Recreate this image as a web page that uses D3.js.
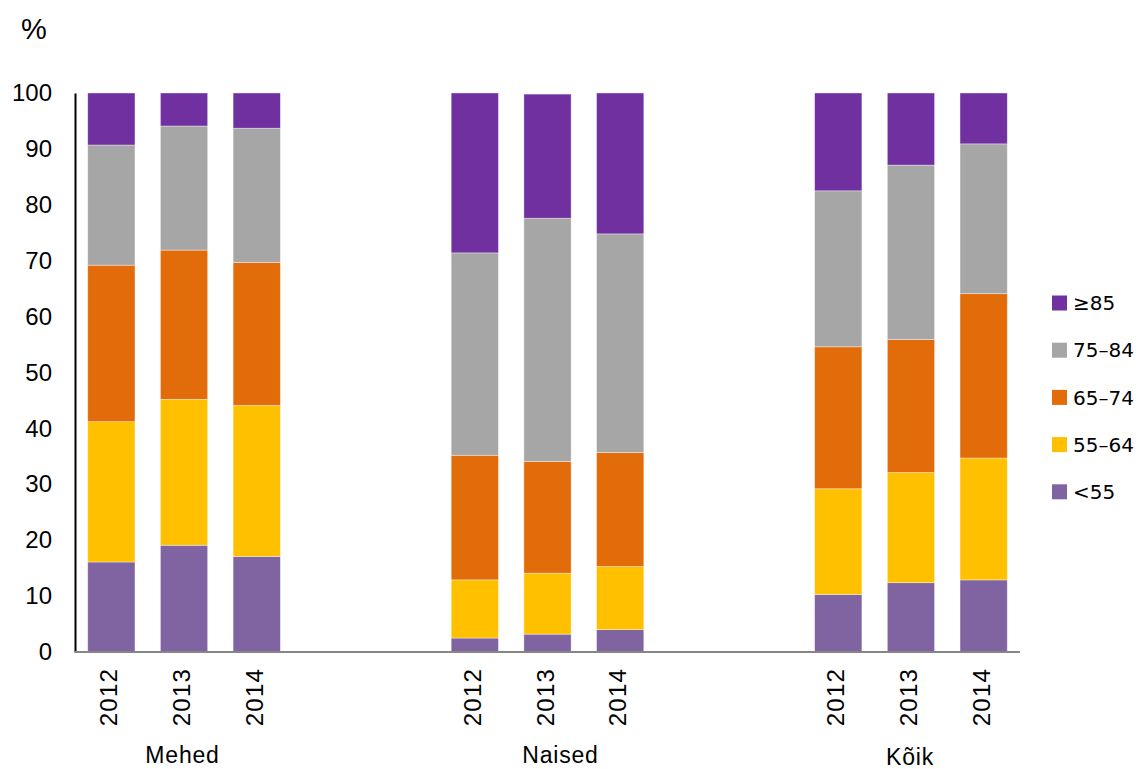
<!DOCTYPE html>
<html>
<head>
<meta charset="utf-8">
<script src="https://cdnjs.cloudflare.com/ajax/libs/d3/7.8.5/d3.min.js"></script>
<style>
  body { margin: 0; background: #fff; }
  .tick text { font-family: "Liberation Sans", Arial, sans-serif; }
</style>
</head>
<body>
<div id="chart"></div>
<script>
// Data
var groups   = ['Mehed', 'Naised', 'Kõik'];
var years    = ['2012', '2013', '2014'];
var series   = ['<55', '55–64', '65–74', '75–84', '≥85'];
var colors   = ['#8064A2', '#FFC000', '#E36C0A', '#A6A6A6', '#7030A0'];

// shares per bar (group x year), order follows series
var under55  = [16.1, 19.1, 17.1,  2.5,  3.2,  4.0, 10.3, 12.4, 12.9];
var a55_64   = [25.1, 26.1, 27.0, 10.4, 10.9, 11.3, 18.9, 19.7, 21.8];
var a65_74   = [28.0, 26.7, 25.6, 22.3, 20.0, 20.4, 25.4, 23.8, 29.4];
var a75_84   = [21.5, 22.2, 24.0, 36.2, 43.5, 39.1, 27.9, 31.2, 26.8];
var over85   = [ 9.3,  5.9,  6.3, 28.6, 22.2, 25.2, 17.5, 12.9,  9.1];

var yTicks   = [0, 10, 20, 30, 40, 50, 60, 70, 80, 90, 100];

// Width and height
var chart_width  = 1140;
var chart_height = 769;
var left   = 75;
var right  = 1020;
var top_y  = 93;
var bottom = 652;

// small nudges of the group captions (as in the original)
var groupLabelShift = { 'Mehed': [-1.5, 763], 'Naised': [13, 763], 'Kõik': [-1, 765] };

var svg = d3.select('#chart')
  .append('svg')
  .attr('width', chart_width)
  .attr('height', chart_height);

// build bar rows
var values = [under55, a55_64, a65_74, a75_84, over85];
var rows = [];
groups.forEach(function(g, gi){
  years.forEach(function(y, yi){
    var i = gi * years.length + yi;
    var row = { key: g + '|' + y, group: g, year: y };
    series.forEach(function(s, si){ row[s] = values[si][i]; });
    rows.push(row);
  });
});

// slot domain with two empty slots between groups
var domain = [];
groups.forEach(function(g, gi){
  years.forEach(function(y){ domain.push(g + '|' + y); });
  if (gi < groups.length - 1) { domain.push('gap' + gi + 'a'); domain.push('gap' + gi + 'b'); }
});

var x = d3.scaleBand()
  .domain(domain)
  .range([left, right])
  .paddingInner(0.35)
  .paddingOuter(0.175);

var y = d3.scaleLinear()
  .domain([0, 100])
  .range([bottom, top_y]);

var stack = d3.stack().keys(series)(rows);
var color = d3.scaleOrdinal().domain(series).range(colors);

svg.append('g')
  .selectAll('g')
  .data(stack)
  .enter()
  .append('g')
  .attr('fill', function(d){ return color(d.key); })
  .selectAll('rect')
  .data(function(d){ return d; })
  .enter()
  .append('rect')
  .attr('x', function(d){ return x(d.data.key); })
  .attr('width', x.bandwidth())
  .attr('y', function(d){ return y(d[1]); })
  .attr('height', function(d){ return y(d[0]) - y(d[1]); })
  .attr('stroke', '#fff')
  .attr('stroke-opacity', 0.5)
  .attr('stroke-width', 0.75);

// y axis
var yAxis = svg.append('g')
  .attr('transform', 'translate(' + left + ',0)')
  .call(d3.axisLeft(y).tickValues(yTicks).tickSize(0).tickPadding(23));
yAxis.select('.domain').attr('stroke', '#000').attr('stroke-width', 2);
yAxis.selectAll('text').attr('font-size', 24).attr('fill', '#000');

// baseline
svg.append('line')
  .attr('x1', left).attr('x2', right)
  .attr('y1', bottom).attr('y2', bottom)
  .attr('stroke', '#868686')
  .attr('stroke-width', 2);

// year labels
svg.append('g')
  .selectAll('text')
  .data(rows)
  .enter()
  .append('text')
  .attr('transform', function(d){
    return 'translate(' + (x(d.key) + x.bandwidth() / 2 + 6) + ',' + (bottom + 16) + ') rotate(-90)';
  })
  .attr('text-anchor', 'end')
  .attr('font-family', 'Liberation Sans, Arial, sans-serif')
  .attr('font-size', 24)
  .attr('letter-spacing', 1.2)
  .text(function(d){ return d.year; });

// group labels
svg.append('g')
  .selectAll('text')
  .data(groups)
  .enter()
  .append('text')
  .attr('x', function(g){ return x(g + '|' + years[1]) + x.bandwidth() / 2 + groupLabelShift[g][0]; })
  .attr('y', function(g){ return groupLabelShift[g][1]; })
  .attr('text-anchor', 'middle')
  .attr('font-family', 'Liberation Sans, Arial, sans-serif')
  .attr('font-size', 23)
  .attr('letter-spacing', 0.8)
  .text(function(g){ return g; });

// unit label
svg.append('text')
  .attr('x', 21)
  .attr('y', 39)
  .attr('font-family', 'Liberation Sans, Arial, sans-serif')
  .attr('font-size', 29)
  .text('%');

// legend (top item is last series)
var legend = svg.append('g')
  .selectAll('g')
  .data(series.slice().reverse())
  .enter()
  .append('g')
  .attr('transform', function(d, i){ return 'translate(1052,' + (303 + i * 47.2) + ')'; });

legend.append('rect')
  .attr('x', 0).attr('y', -7.5)
  .attr('width', 15).attr('height', 15)
  .attr('fill', function(d){ return color(d); });

legend.append('text')
  .attr('x', 21)
  .attr('y', 0)
  .attr('dy', '0.36em')
  .attr('font-family', 'DejaVu Sans, Verdana, sans-serif')
  .attr('font-size', 20)
  .text(function(d){ return d; });
</script>
</body>
</html>
